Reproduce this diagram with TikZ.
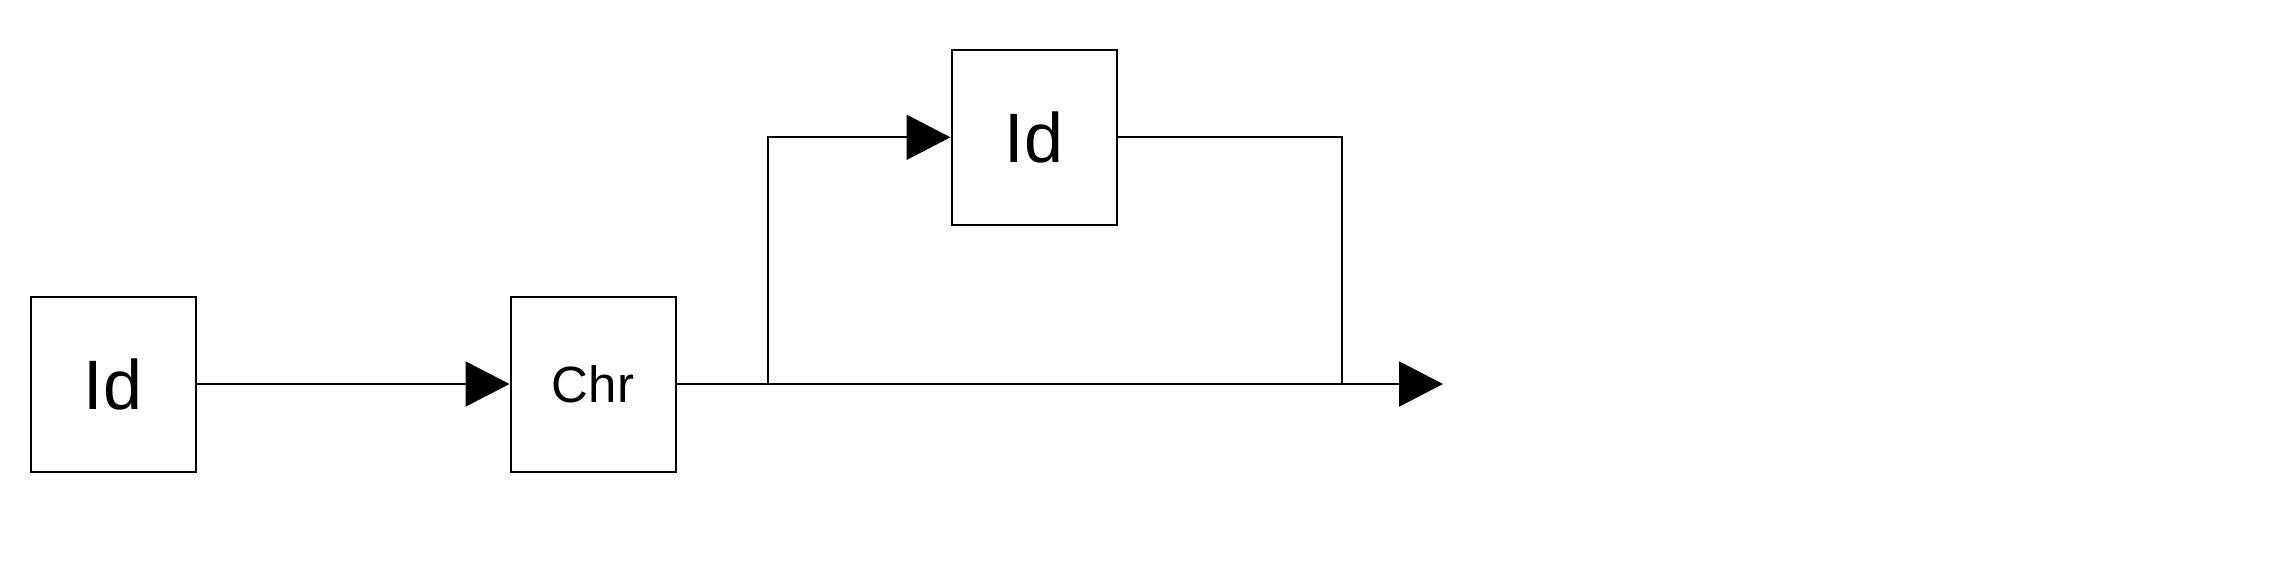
\documentclass[tikz,border=0pt]{standalone}
\usepackage{fontspec}
\setmainfont{Liberation Sans}
\usetikzlibrary{arrows.meta}
\begin{document}
\begin{tikzpicture}[x=1pt,y=-1pt,
  box/.style={draw,line width=2pt,minimum width=165pt,minimum height=175pt,inner sep=0pt,font=\fontsize{70}{84}\selectfont},
  conn/.style={line width=2pt,-{Triangle[length=44pt,width=45pt]}},
  plain/.style={line width=2pt}]
\useasboundingbox (0,0) rectangle (2290,574);
\fill[white] (0,0) rectangle (2290,574);
\node[box] (id1) at (113,384) {Id};
\node[box, font=\fontsize{51}{60}\selectfont] (chr) at (593,384) {Chr};
\node[box] (id2) at (1034,137.3) {Id};
\coordinate (split) at (767.5,384);
\coordinate (join) at (1342,384);
\coordinate (out) at (1443,384);
\draw[conn] (id1) -- (chr);
\draw[conn] (chr.east) -- (out);
\draw[conn] (split) |- (id2.west);
\draw[plain] (id2.east) -| (join);
\end{tikzpicture}
\end{document}
